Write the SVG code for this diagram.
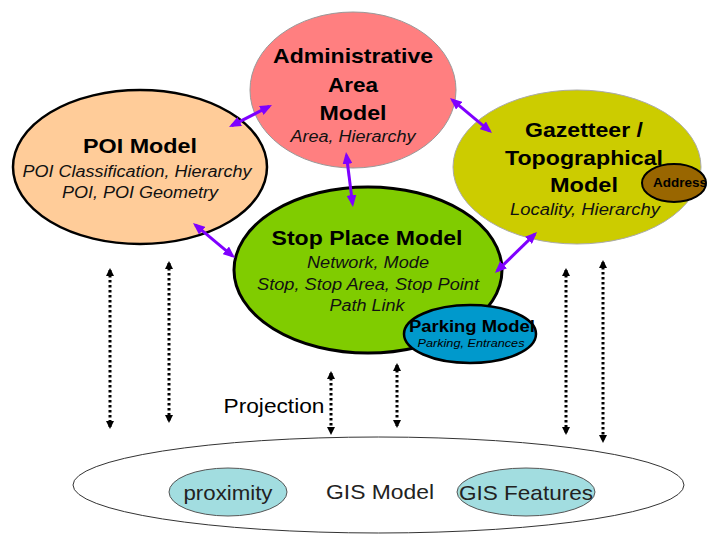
<svg xmlns="http://www.w3.org/2000/svg" width="707" height="534" viewBox="0 0 707 534">
<style>
text{font-family:"Liberation Sans",Arial,sans-serif;fill:#000;text-anchor:middle}
.t{font-weight:bold;font-size:21px}
.s{font-style:italic;font-size:16px;fill:#111}
.g{font-size:21px;fill:#222}
.pl{fill:none;stroke:#7F00FF;stroke-width:3}
.dl{fill:none;stroke:#000;stroke-width:3;stroke-dasharray:2.5 2.5}
</style>
<defs>
<marker id="pa" viewBox="0 0 12 10" refX="9" refY="5" markerWidth="12" markerHeight="10" markerUnits="userSpaceOnUse" orient="auto-start-reverse"><path d="M0,0 L12,5 L0,10 z" fill="#7F00FF"/></marker>
<marker id="da" viewBox="0 0 8 8" refX="6" refY="4" markerWidth="8" markerHeight="8" markerUnits="userSpaceOnUse" orient="auto-start-reverse"><path d="M0,0 L8,4 L0,8 z" fill="#000"/></marker>
</defs>
<rect width="707" height="534" fill="#fff"/>
<g id="gis">
<ellipse cx="378.5" cy="485" rx="305.5" ry="48" fill="#fff" stroke="#333" stroke-width="1"/>
<text class="g" x="380" y="499" textLength="108" lengthAdjust="spacingAndGlyphs">GIS Model</text>
</g>
<g id="proximity">
<ellipse cx="228" cy="492" rx="59" ry="24" fill="#A2DDE0" stroke="#555" stroke-width="1"/>
<text class="g" x="228" y="500" textLength="89" lengthAdjust="spacingAndGlyphs">proximity</text>
</g>
<g id="gisfeatures">
<ellipse cx="526" cy="492" rx="69" ry="24" fill="#A2DDE0" stroke="#555" stroke-width="1"/>
<text class="g" x="526" y="500" textLength="134" lengthAdjust="spacingAndGlyphs">GIS Features</text>
</g>
<g id="poi">
<ellipse cx="140" cy="167" rx="127" ry="77" fill="#FFCC99" stroke="#000" stroke-width="2.5"/>
<text class="t" x="140" y="153" textLength="114" lengthAdjust="spacingAndGlyphs">POI Model</text>
<text class="s" x="137" y="177" textLength="229" lengthAdjust="spacingAndGlyphs">POI Classification, Hierarchy</text>
<text class="s" x="140" y="198" textLength="156" lengthAdjust="spacingAndGlyphs">POI, POI Geometry</text>
</g>
<g id="admin">
<ellipse cx="353" cy="90" rx="103" ry="78" fill="#FF7F80" stroke="#999" stroke-width="1"/>
<text class="t" x="353" y="63" textLength="160" lengthAdjust="spacingAndGlyphs">Administrative</text>
<text class="t" x="353" y="92" textLength="50" lengthAdjust="spacingAndGlyphs">Area</text>
<text class="t" x="353" y="120" textLength="67" lengthAdjust="spacingAndGlyphs">Model</text>
<text class="s" x="353" y="142" textLength="125" lengthAdjust="spacingAndGlyphs">Area, Hierarchy</text>
</g>
<g id="gazetteer">
<ellipse cx="577" cy="167" rx="124" ry="77" fill="#CCCC00" stroke="#aaa" stroke-width="1"/>
<text class="t" x="584" y="137" textLength="118" lengthAdjust="spacingAndGlyphs">Gazetteer /</text>
<text class="t" x="584" y="165" textLength="158" lengthAdjust="spacingAndGlyphs">Topographical</text>
<text class="t" x="584" y="192" textLength="68" lengthAdjust="spacingAndGlyphs">Model</text>
<text class="s" x="585" y="215" textLength="150" lengthAdjust="spacingAndGlyphs">Locality, Hierarchy</text>
</g>
<g id="address">
<ellipse cx="674" cy="183" rx="32" ry="19" fill="#996600" stroke="#000" stroke-width="2"/>
<text x="680" y="187" font-weight="bold" font-size="12" textLength="54" lengthAdjust="spacingAndGlyphs">Address</text>
</g>
<g id="stopplace">
<ellipse cx="368" cy="270" rx="134" ry="83" fill="#80CC00" stroke="#000" stroke-width="3"/>
<text class="t" x="367" y="245" textLength="191" lengthAdjust="spacingAndGlyphs">Stop Place Model</text>
<text class="s" x="368" y="268" textLength="122" lengthAdjust="spacingAndGlyphs">Network, Mode</text>
<text class="s" x="368" y="290" textLength="222" lengthAdjust="spacingAndGlyphs">Stop, Stop Area, Stop Point</text>
<text class="s" x="367" y="311" textLength="75" lengthAdjust="spacingAndGlyphs">Path Link</text>
</g>
<g id="parking">
<ellipse cx="470" cy="334" rx="66" ry="29" fill="#0099CC" stroke="#000" stroke-width="2.5"/>
<text x="472" y="332" font-weight="bold" font-size="16" textLength="126" lengthAdjust="spacingAndGlyphs">Parking Model</text>
<text x="471" y="347" font-style="italic" font-size="11" fill="#111" textLength="107" lengthAdjust="spacingAndGlyphs">Parking, Entrances</text>
</g>
<g id="projection">
<text x="274" y="413" font-size="21" fill="#111" textLength="101" lengthAdjust="spacingAndGlyphs">Projection</text>
</g>
<g id="connectors">
<line class="pl" x1="231.7" y1="125.6" x2="269.3" y2="106.4" marker-start="url(#pa)" marker-end="url(#pa)"/>
<line class="pl" x1="195.3" y1="224.9" x2="232.7" y2="256.1" marker-start="url(#pa)" marker-end="url(#pa)"/>
<line class="pl" x1="346.4" y1="155" x2="352.6" y2="204" marker-start="url(#pa)" marker-end="url(#pa)"/>
<line class="pl" x1="452.3" y1="99.9" x2="489.7" y2="131.1" marker-start="url(#pa)" marker-end="url(#pa)"/>
<line class="pl" x1="534.9" y1="234.1" x2="497.1" y2="270.9" marker-start="url(#pa)" marker-end="url(#pa)"/>
<line class="dl" x1="110" y1="270" x2="110" y2="427" marker-start="url(#da)" marker-end="url(#da)"/>
<line class="dl" x1="169" y1="263" x2="169" y2="421" marker-start="url(#da)" marker-end="url(#da)"/>
<line class="dl" x1="331" y1="373" x2="331" y2="433" marker-start="url(#da)" marker-end="url(#da)"/>
<line class="dl" x1="397" y1="365" x2="397" y2="426" marker-start="url(#da)" marker-end="url(#da)"/>
<line class="dl" x1="566" y1="270" x2="566" y2="433" marker-start="url(#da)" marker-end="url(#da)"/>
<line class="dl" x1="603" y1="262" x2="603" y2="441" marker-start="url(#da)" marker-end="url(#da)"/>
</g>
</svg>
